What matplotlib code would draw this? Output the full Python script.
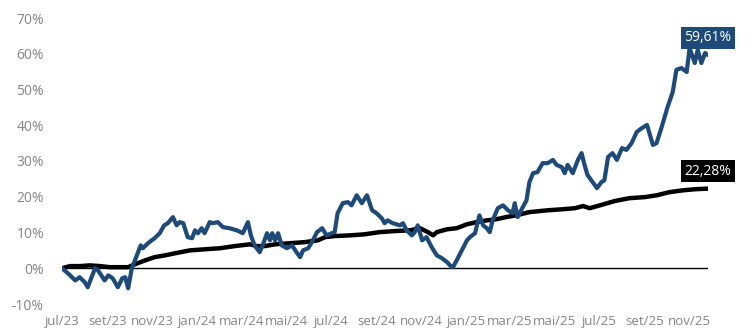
import matplotlib
matplotlib.use("Agg")
import matplotlib.pyplot as plt
import matplotlib.dates as mdates
import pandas as pd

# ── Data ─────────────────────────────────────────────────────────────────────
blue_dates = [
    "2023-07-01", "2023-07-09", "2023-07-19", "2023-07-25", "2023-08-01", "2023-08-05",
    "2023-08-15", "2023-08-19", "2023-08-28", "2023-09-02", "2023-09-08", "2023-09-15",
    "2023-09-21", "2023-09-25", "2023-09-29", "2023-10-04", "2023-10-12", "2023-10-16",
    "2023-10-19", "2023-10-26", "2023-10-31", "2023-11-04", "2023-11-11", "2023-11-17",
    "2023-11-22", "2023-11-29", "2023-12-04", "2023-12-08", "2023-12-13", "2023-12-19",
    "2023-12-25", "2023-12-29", "2024-01-02", "2024-01-07", "2024-01-11", "2024-01-18",
    "2024-01-22", "2024-01-29", "2024-02-05", "2024-02-14", "2024-02-24", "2024-03-03",
    "2024-03-10", "2024-03-14", "2024-03-19", "2024-03-26", "2024-03-30", "2024-04-05",
    "2024-04-09", "2024-04-12", "2024-04-16", "2024-04-20", "2024-04-25", "2024-05-02",
    "2024-05-09", "2024-05-16", "2024-05-20", "2024-05-24", "2024-05-31", "2024-06-05",
    "2024-06-12", "2024-06-19", "2024-06-25", "2024-07-02", "2024-07-06", "2024-07-10",
    "2024-07-17", "2024-07-24", "2024-07-29", "2024-08-05", "2024-08-12", "2024-08-19",
    "2024-08-26", "2024-09-01", "2024-09-08", "2024-09-12", "2024-09-16", "2024-09-23",
    "2024-10-03", "2024-10-07", "2024-10-12", "2024-10-19", "2024-10-23", "2024-10-27",
    "2024-11-02", "2024-11-08", "2024-11-15", "2024-11-22", "2024-11-29", "2024-12-06",
    "2024-12-10", "2024-12-14", "2024-12-19", "2024-12-26", "2025-01-02", "2025-01-06",
    "2025-01-13", "2025-01-19", "2025-01-24", "2025-01-29", "2025-02-02", "2025-02-06",
    "2025-02-13", "2025-02-20", "2025-02-27", "2025-03-05", "2025-03-08", "2025-03-12",
    "2025-03-19", "2025-03-24", "2025-03-28", "2025-04-02", "2025-04-08", "2025-04-15",
    "2025-04-22", "2025-04-29", "2025-05-04", "2025-05-11", "2025-05-15", "2025-05-19",
    "2025-05-26", "2025-06-02", "2025-06-07", "2025-06-11", "2025-06-15", "2025-06-22",
    "2025-06-28", "2025-07-04", "2025-07-08", "2025-07-13", "2025-07-19", "2025-07-25",
    "2025-08-01", "2025-08-07", "2025-08-14", "2025-08-21", "2025-08-28", "2025-09-04",
    "2025-09-08", "2025-09-12", "2025-09-17", "2025-09-24", "2025-10-02", "2025-10-09",
    "2025-10-14", "2025-10-21", "2025-10-28", "2025-11-01", "2025-11-08", "2025-11-12",
    "2025-11-17", "2025-11-22", "2025-11-26",
]
blue_vals = [
    0.0, -1.4, -3.4, -2.5, -3.9, -5.3,
    0.0, -0.6, -3.4, -2.0, -2.8, -5.3,
    -2.8, -2.5, -5.6, 0.0, 4.2, 6.4,
    5.6, 7.0, 7.8, 8.4, 9.8, 12.0,
    12.6, 14.3, 12.0, 12.9, 12.6, 8.7,
    8.4, 10.6, 9.8, 11.2, 9.8, 12.9,
    12.6, 12.9, 11.5, 11.2, 10.6, 9.8,
    12.9, 9.2, 6.4, 4.5, 6.4, 9.8,
    7.8, 9.8, 7.8, 9.8, 6.4, 5.6,
    6.4, 4.2, 3.1, 5.0, 5.6, 7.3,
    10.1, 11.2, 9.2, 9.8, 10.1, 15.4,
    18.2, 18.5, 17.6, 20.4, 18.2, 20.4,
    16.2, 15.4, 14.0, 12.6, 13.4, 12.6,
    12.0, 12.6, 10.6, 9.2, 10.1, 12.0,
    7.8, 8.7, 5.9, 3.6, 2.8, 1.7,
    0.8, 0.3, 2.2, 5.0, 7.8, 8.7,
    9.8, 14.8, 12.0, 11.2, 10.1, 13.4,
    16.8, 17.6, 16.2, 15.4, 18.2, 14.3,
    17.1, 19.0, 24.1, 26.6, 26.9, 29.4,
    29.4, 30.3, 28.9, 28.3, 26.6, 28.9,
    26.6, 30.3, 32.2, 28.9, 26.1, 24.1,
    22.4, 24.1, 24.6, 31.1, 32.2, 30.3,
    33.6, 33.1, 35.0, 38.1, 39.2, 40.1,
    37.3, 34.5, 35.0, 39.5, 45.1, 49.3,
    55.5, 56.0, 54.9, 61.6, 57.4, 61.1,
    57.4, 60.2, 59.61,
]

black_dates = [
    "2023-07-01", "2023-07-12", "2023-07-25", "2023-08-08", "2023-08-22", "2023-09-04",
    "2023-09-18", "2023-09-29", "2023-10-08", "2023-10-22", "2023-11-04", "2023-11-18",
    "2023-12-02", "2023-12-22", "2024-01-11", "2024-02-01", "2024-02-21", "2024-03-13",
    "2024-03-22", "2024-04-02", "2024-04-16", "2024-05-06", "2024-05-26", "2024-06-13",
    "2024-06-23", "2024-07-06", "2024-07-27", "2024-08-16", "2024-09-05", "2024-09-26",
    "2024-10-16", "2024-10-30", "2024-11-10", "2024-11-17", "2024-11-22", "2024-12-06",
    "2024-12-19", "2025-01-02", "2025-01-15", "2025-01-29", "2025-02-11", "2025-02-24",
    "2025-03-10", "2025-03-28", "2025-04-21", "2025-05-12", "2025-05-29", "2025-06-09",
    "2025-06-18", "2025-07-02", "2025-07-22", "2025-08-11", "2025-09-01", "2025-09-17",
    "2025-10-05", "2025-10-23", "2025-11-08", "2025-11-26",
]
black_vals = [
    0.0, 0.6, 0.6, 0.8, 0.6, 0.3,
    0.3, 0.3, 1.1, 2.2, 3.1, 3.6,
    4.2, 5.0, 5.3, 5.6, 6.2, 6.7,
    6.2, 6.2, 6.7, 7.0, 7.3, 7.8,
    8.7, 9.0, 9.2, 9.5, 10.1, 10.4,
    10.6, 11.2, 10.1, 9.2, 10.1, 10.9,
    11.2, 12.3, 12.9, 13.4, 13.7, 14.3,
    14.8, 15.7, 16.2, 16.5, 16.8, 17.4,
    16.8, 17.6, 18.8, 19.6, 19.9, 20.4,
    21.3, 21.8, 22.1, 22.28,
]

yticks = [-10, 0, 10, 20, 30, 40, 50, 60, 70]
month_pt = ["jan", "fev", "mar", "abr", "mai", "jun",
            "jul", "ago", "set", "out", "nov", "dez"]

BLUE = "#1d4a78"
GREY = "#858585"

bx = pd.to_datetime(blue_dates)
kx = pd.to_datetime(black_dates)

plt.rcParams["font.family"] = ["Open Sans", "DejaVu Sans"]

fig = plt.figure(figsize=(7.5, 3.36), dpi=100)
ax = fig.add_axes([62 / 750, 32 / 336, 646 / 750, 286 / 336])

ax.plot([bx[0], bx[-1]], [0, 0], color="black", lw=1.0, zorder=1)
ax.plot(kx, black_vals, color="black", lw=3.2, zorder=2, solid_capstyle="round")
ax.plot(bx, blue_vals, color=BLUE, lw=3.0, zorder=3, solid_capstyle="round")

ax.set_xlim(pd.Timestamp("2023-07-01"), pd.Timestamp("2025-11-26"))
ax.set_ylim(-10, 70)
ax.set_yticks(yticks)
ax.set_yticklabels([f"{v}%" for v in yticks])

ax.xaxis.set_major_locator(mdates.MonthLocator(bymonth=[1, 3, 5, 7, 9, 11]))
ax.xaxis.set_major_formatter(
    plt.FuncFormatter(lambda v, p: f"{month_pt[mdates.num2date(v).month - 1]}/"
                                   f"{mdates.num2date(v).year % 100:02d}"))

ax.tick_params(axis="both", length=0, colors=GREY)
ax.tick_params(axis="y", pad=13, labelsize=10)
ax.tick_params(axis="x", pad=8, labelsize=9.5)
for s in ax.spines.values():
    s.set_visible(False)

# end-value labels
for x, y, c in [(bx[-1], blue_vals[-1], BLUE), (kx[-1], black_vals[-1], "black")]:
    ax.annotate(f"{y:.2f}%".replace(".", ","), (x, y), xytext=(0, 12.5),
                textcoords="offset points", ha="center", va="center",
                color="white", fontsize=10, annotation_clip=False,
                bbox=dict(boxstyle="square,pad=0.25", fc=c, ec="none"))

fig.savefig("out.png", dpi=100)
